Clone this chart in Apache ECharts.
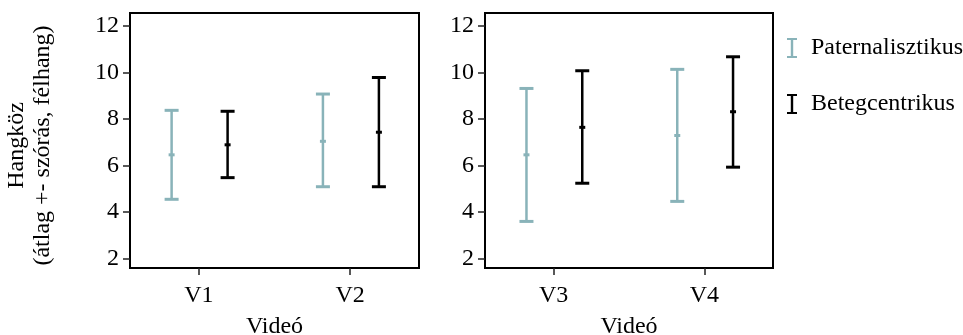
<!DOCTYPE html>
<html>
<head>
<meta charset="utf-8">
<script src="https://cdn.jsdelivr.net/npm/echarts@6/dist/echarts.min.js"></script>
<style>html,body{margin:0;padding:0;background:#fff}#c{width:963px;height:335px}</style>
</head>
<body>
<div id="c"></div>
<script>
// ---- data ----
const videosLeft = ['V1', 'V2'];
const videosRight = ['V3', 'V4'];
const seriesNames = ['Paternalisztikus', 'Betegcentrikus'];
const yTicks = [2, 4, 6, 8, 10, 12];
// order: V1, V2, V3, V4
const paternMean = [6.46, 7.04, 6.46, 7.29];
const paternLow  = [4.55, 5.09, 3.60, 4.46];
const paternHigh = [8.37, 9.07, 9.31, 10.13];
const betegMean  = [6.89, 7.43, 7.64, 8.31];
const betegLow   = [5.48, 5.09, 5.24, 5.93];
const betegHigh  = [8.33, 9.78, 10.07, 10.67];

const TEAL = '#89b3b9';
const BLACK = '#000000';
const FONT = 'Liberation Serif';
const OFF = [-0.18, 0.19];

function build(mean, low, high, start, off) {
  const out = [];
  for (let i = 0; i < 2; i++) {
    out.push([i + 1 + off, mean[start + i], low[start + i], high[start + i]]);
  }
  return out;
}

function makeRender(color) {
  return function (params, api) {
    const x = api.value(0), m = api.value(1), lo = api.value(2), hi = api.value(3);
    const t = api.coord([x, hi]), b = api.coord([x, lo]), c = api.coord([x, m]);
    const cw = 7;
    return {
      type: 'group',
      children: [
        { type: 'line', shape: { x1: t[0], y1: t[1], x2: b[0], y2: b[1] }, style: { stroke: color, lineWidth: 2.5 } },
        { type: 'line', shape: { x1: t[0] - cw, y1: t[1], x2: t[0] + cw, y2: t[1] }, style: { stroke: color, lineWidth: 3 } },
        { type: 'line', shape: { x1: b[0] - cw, y1: b[1], x2: b[0] + cw, y2: b[1] }, style: { stroke: color, lineWidth: 3 } },
        { type: 'rect', shape: { x: c[0] - 3, y: c[1] - 1.5, width: 6, height: 3 }, style: { fill: color } }
      ]
    };
  };
}

const grids = [
  { left: 130, top: 13, width: 289, height: 255, outerBoundsMode: 'none', containLabel: false, show: true, borderColor: '#000', borderWidth: 2, backgroundColor: 'transparent' },
  { left: 485, top: 13, width: 288, height: 255, outerBoundsMode: 'none', containLabel: false, show: true, borderColor: '#000', borderWidth: 2, backgroundColor: 'transparent' }
];

function xAxis(gi, names) {
  return {
    type: 'value', gridIndex: gi, min: 0.545, max: 2.455,
    name: 'Videó', nameLocation: 'middle', nameGap: 47,
    nameTextStyle: { fontFamily: FONT, fontSize: 24, color: '#000' },
    splitLine: { show: false },
    axisLine: { show: true, onZero: false, lineStyle: { color: '#000', width: 2 } },
    axisTick: { show: true, customValues: [1, 2], length: 7, lineStyle: { color: '#222', width: 1.5 } },
    axisLabel: {
      customValues: [1, 2], margin: 16,
      formatter: v => names[Math.round(v) - 1],
      fontFamily: FONT, fontSize: 24, color: '#000'
    }
  };
}

function yAxis(gi, withName) {
  const ax = {
    type: 'value', gridIndex: gi, min: 1.6, max: 12.55,
    splitLine: { show: false },
    axisLine: { show: true, onZero: false, lineStyle: { color: '#000', width: 2 } },
    axisTick: { show: true, customValues: yTicks, length: 7, lineStyle: { color: '#222', width: 1.5 } },
    axisLabel: { customValues: yTicks, margin: 11, fontFamily: FONT, fontSize: 24, color: '#000' }
  };
  if (withName) {
    ax.name = 'Hangköz\n(átlag +- szórás, félhang)';
    ax.nameLocation = 'middle';
    ax.nameRotate = 90;
    ax.nameGap = 74;
    ax.nameTextStyle = { fontFamily: FONT, fontSize: 24, color: '#000', lineHeight: 26, padding: [0, 10, 0, 0] };
  }
  return ax;
}

const series = [];
[[0, 0], [1, 2]].forEach(([gi, start]) => {
  series.push({
    type: 'custom', name: seriesNames[0], xAxisIndex: gi, yAxisIndex: gi,
    itemStyle: { color: TEAL }, renderItem: makeRender(TEAL),
    encode: { x: 0, y: [1, 2, 3] },
    data: build(paternMean, paternLow, paternHigh, start, OFF[0])
  });
  series.push({
    type: 'custom', name: seriesNames[1], xAxisIndex: gi, yAxisIndex: gi,
    itemStyle: { color: BLACK }, renderItem: makeRender(BLACK),
    encode: { x: 0, y: [1, 2, 3] },
    data: build(betegMean, betegLow, betegHigh, start, OFF[1])
  });
});

const ICON = 'path://M0,0H10V2H6.2V18H10V20H0V18H3.8V2H0Z';

const chart = echarts.init(document.getElementById('c'), null, { renderer: 'canvas' });
chart.setOption({
  animation: false,
  backgroundColor: '#fff',
  grid: grids,
  xAxis: [xAxis(0, videosLeft), xAxis(1, videosRight)],
  yAxis: [yAxis(0, true), yAxis(1, false)],
  legend: {
    orient: 'vertical', left: 787, top: 36, padding: 0,
    itemWidth: 10, itemHeight: 20, itemGap: 32,
    data: seriesNames.map(n => ({ name: n, icon: ICON })),
    textStyle: { fontFamily: FONT, fontSize: 24, color: '#000', padding: [0, 0, 0, 9] }
  },
  series: series
});
</script>
</body>
</html>
